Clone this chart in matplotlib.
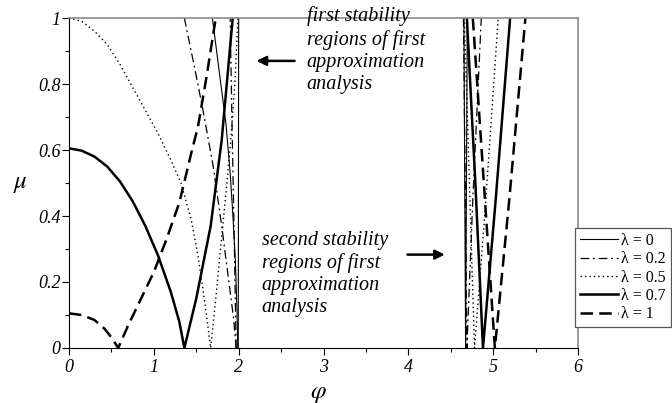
import matplotlib
matplotlib.use('Agg')
import matplotlib.pyplot as plt
from matplotlib.ticker import MultipleLocator

# legend labels
lambdas = ['0', '0.2', '0.5', '0.7', '1']

# stability boundaries mu(phi)
# first region (phi < 2) and second region (phi ~ 4.7 - 5.4)
l0_first_a_phi = [1.69, 1.77, 1.85, 1.90, 1.93, 1.96, 1.98, 1.99]
l0_first_a_mu = [1.0, 0.84, 0.68, 0.53, 0.41, 0.27, 0.12, 0.0]
l0_first_b_phi = [1.995, 2.0]
l0_first_b_mu = [0.0, 1.0]
l0_second_phi = [4.655, 4.675, 4.695]
l0_second_mu = [1.0, 0.0, 1.0]

l02_first_a_phi = [1.36, 1.48, 1.58, 1.70, 1.80, 1.89, 1.94, 1.97]
l02_first_a_mu = [1.0, 0.85, 0.72, 0.55, 0.37, 0.19, 0.09, 0.0]
l02_first_b_phi = [1.97, 1.95, 1.92, 1.90]
l02_first_b_mu = [0.0, 0.3, 0.7, 1.0]
l02_second_phi = [4.65, 4.67, 4.69, 4.76, 4.86]
l02_second_mu = [1.0, 0.5, 0.0, 0.45, 1.0]

l05_first_phi = [0, 0.15, 0.3, 0.45, 0.6, 0.75, 0.9, 1.05, 1.2, 1.32, 1.44,
                 1.52, 1.60, 1.67, 1.73, 1.79, 1.85, 1.91, 1.96, 1.99]
l05_first_mu = [1.0, 0.99, 0.96, 0.92, 0.86, 0.79, 0.72, 0.65, 0.57, 0.5,
                0.39, 0.28, 0.14, 0.0, 0.15, 0.31, 0.47, 0.64, 0.82, 1.0]
l05_second_phi = [4.66, 4.72, 4.78, 4.90, 5.06]
l05_second_mu = [1.0, 0.5, 0.0, 0.4, 1.0]

l07_first_phi = [0, 0.15, 0.3, 0.45, 0.6, 0.75, 0.9, 1.05, 1.2, 1.3, 1.36,
                 1.5, 1.67, 1.8, 1.93]
l07_first_mu = [0.605, 0.598, 0.58, 0.55, 0.505, 0.445, 0.37, 0.28, 0.17,
                0.08, 0.0, 0.15, 0.37, 0.63, 1.0]
l07_second_phi = [4.69, 4.79, 4.88, 5.03, 5.20]
l07_second_mu = [1.0, 0.5, 0.0, 0.45, 1.0]

l1_first_phi = [0, 0.15, 0.3, 0.42, 0.5, 0.58, 0.7, 0.85, 1.0, 1.15, 1.3,
                1.45, 1.52, 1.62, 1.73]
l1_first_mu = [0.105, 0.1, 0.085, 0.058, 0.032, 0.0, 0.07, 0.15, 0.23, 0.33,
               0.44, 0.6, 0.67, 0.82, 1.0]
l1_second_phi = [4.76, 4.89, 5.02, 5.19, 5.38]
l1_second_mu = [1.0, 0.5, 0.0, 0.45, 1.0]

series = [
    [(l0_first_a_phi, l0_first_a_mu), (l0_first_b_phi, l0_first_b_mu),
     (l0_second_phi, l0_second_mu)],
    [(l02_first_a_phi, l02_first_a_mu), (l02_first_b_phi, l02_first_b_mu),
     (l02_second_phi, l02_second_mu)],
    [(l05_first_phi, l05_first_mu), (l05_second_phi, l05_second_mu)],
    [(l07_first_phi, l07_first_mu), (l07_second_phi, l07_second_mu)],
    [(l1_first_phi, l1_first_mu), (l1_second_phi, l1_second_mu)],
]

styles = [
    dict(ls='-', lw=0.8),
    dict(ls=(0, (7, 3, 1.5, 3)), lw=0.9),
    dict(ls=(0, (1, 2.2)), lw=1.0),
    dict(ls='-', lw=1.8),
    dict(ls=(0, (5, 2.5)), lw=1.8),
]

serif = 'Liberation Serif'
greek = 'STIXGeneral'

fig = plt.figure(figsize=(6.72, 4.03), dpi=100)
ax = fig.add_axes([69 / 672, 1 - 348 / 403, 509 / 672, 330 / 403])

handles = []
for lam, branches, st in zip(lambdas, series, styles):
    for i, (x, y) in enumerate(branches):
        ln, = ax.plot(x, y, color='black', solid_joinstyle='round', **st)
        if i == 0:
            handles.append(ln)

ax.set_xlim(0, 6)
ax.set_ylim(0, 1)
ax.xaxis.set_major_locator(MultipleLocator(1))
ax.xaxis.set_minor_locator(MultipleLocator(0.5))
ax.yaxis.set_major_locator(MultipleLocator(0.2))
ax.yaxis.set_minor_locator(MultipleLocator(0.1))
ax.set_yticks([0, 0.2, 0.4, 0.6, 0.8, 1])
ax.set_yticklabels(['0', '0.2', '0.4', '0.6', '0.8', '1'])
ax.tick_params(which='major', direction='out', length=5, width=0.8)
ax.tick_params(which='minor', direction='out', length=3, width=0.8)
for lab in ax.get_xticklabels() + ax.get_yticklabels():
    lab.set_family(serif)
    lab.set_style('italic')
    lab.set_fontsize(13)
ax.tick_params(axis='x', pad=3)
ax.tick_params(axis='y', pad=1)

for side in ['top', 'right']:
    ax.spines[side].set_color('#8a8a8a')
    ax.spines[side].set_linewidth(1.2)

ax.set_xlabel('φ', family=greek, style='italic', fontsize=18)
ax.set_ylabel('μ', family=greek, style='italic', fontsize=18, rotation=0)
ax.xaxis.set_label_coords(0.489, -0.10)
ax.yaxis.set_label_coords(-0.096, 0.47)

# annotations
ax.text(2.80, 1.035, 'first stability\nregions of first\napproximation\nanalysis',
        family=serif, style='italic', fontsize=14.5, va='top', ha='left',
        linespacing=1.22, clip_on=False)
ax.annotate('', xy=(2.21, 0.87), xytext=(2.66, 0.87),
            arrowprops=dict(arrowstyle='-|>', color='black', lw=1.8,
                            mutation_scale=14, shrinkA=0, shrinkB=0))
ax.text(2.27, 0.355, 'second stability\nregions of first\napproximation\nanalysis',
        family=serif, style='italic', fontsize=14.5, va='top', ha='left',
        linespacing=1.22)
ax.annotate('', xy=(4.43, 0.283), xytext=(3.99, 0.283),
            arrowprops=dict(arrowstyle='-|>', color='black', lw=1.8,
                            mutation_scale=14, shrinkA=0, shrinkB=0))

leg = fig.legend(handles, ['λ = ' + l for l in lambdas],
                 loc='upper left', bbox_to_anchor=(575 / 672, 1 - 228 / 403),
                 borderaxespad=0, fancybox=False, framealpha=1,
                 edgecolor='#555555', prop={'family': serif, 'size': 11.5},
                 handlelength=2.4, handletextpad=0.2, labelspacing=0.15,
                 borderpad=0.3)
leg.get_frame().set_linewidth(0.9)

fig.savefig('out.png', dpi=100)
